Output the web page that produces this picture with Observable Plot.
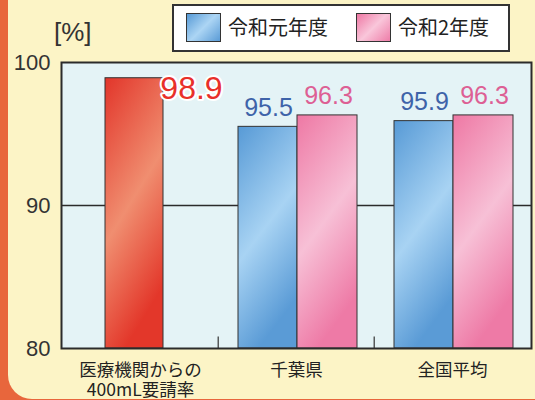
<!DOCTYPE html>
<html>
<head>
<meta charset="utf-8">
<script src="https://cdn.jsdelivr.net/npm/d3@7"></script>
<script src="https://cdn.jsdelivr.net/npm/@observablehq/plot@0.6"></script>
<style>
  html, body { margin: 0; padding: 0; background: #e8663c; }
  #wrap { position: relative; width: 535px; height: 400px; background: #e8663c; overflow: hidden;
          font-family: "Liberation Sans", "Noto Sans CJK JP", sans-serif; }
  #panel { position: absolute; left: 8px; top: -40px; width: 580px; height: 439px; background: #fcf4c6; border-radius: 24px; }
  #chart { position: absolute; left: 0; top: 0; }
  #unit { position: absolute; left: 54px; top: 17px; font-size: 26px; color: #333; font-family: "Liberation Sans", sans-serif; }
  #legend { position: absolute; left: 172px; top: 4px; width: 334px; height: 44px; background: #fff; border: 2px solid #333;
            font-family: "Noto Sans CJK JP", sans-serif; font-size: 20px; color: #222; }
  .sw { position: absolute; top: 7px; width: 33px; height: 27px; border: 1px solid #333; }
  .lt { position: absolute; top: 7px; line-height: 28px; }
</style>
</head>
<body>
<div id="wrap">
  <div id="panel"></div>
  <div id="chart"></div>
  <div id="unit">[%]</div>
  <div id="legend"></div>
</div>
<script>
// ---- data ----
const categories = ["医療機関からの\n400mL要請率", "千葉県", "全国平均"];
const seriesNames = ["令和元年度", "令和2年度"];
const requestCategories = ["医療機関からの\n400mL要請率"];
const requestValues = [98.9];
const compareCategories = ["千葉県", "全国平均"];
const reiwa1Values = [95.5, 95.9];
const reiwa2Values = [96.3, 96.3];
const yTicks = [80, 90, 100];

const redRows = requestCategories.map((c, i) => ({cat: c, value: requestValues[i]}));
const r1Rows = compareCategories.map((c, i) => ({cat: c, value: reiwa1Values[i], series: seriesNames[0]}));
const r2Rows = compareCategories.map((c, i) => ({cat: c, value: reiwa2Values[i], series: seriesNames[1]}));

const chart = Plot.plot({
  width: 535,
  height: 400,
  marginLeft: 61,
  marginRight: 4,
  marginTop: 62,
  marginBottom: 52,
  style: {background: "transparent", fontFamily: "'Liberation Sans', 'Noto Sans CJK JP', sans-serif", color: "#333"},
  x: {type: "band", domain: categories, padding: 0, axis: null},
  y: {domain: [80, 100], axis: null},
  marks: [
    Plot.frame({fill: "#e4f3f6"}),
    Plot.ruleY([90], {stroke: "#2b2b2b", strokeWidth: 1.6}),
    Plot.ruleX(categories.slice(1), {x: d => d, y1: 80, y2: 80.8, dx: -78.3, stroke: "#333", strokeWidth: 1.2}),
    Plot.barY(redRows, {x: "cat", y1: 80, y2: "value", fill: "url(#gRed)", stroke: "#333", strokeWidth: 1, insetLeft: 43, insetRight: 55}),
    Plot.barY(r1Rows, {x: "cat", y1: 80, y2: "value", fill: "url(#gBlue)", stroke: "#333", strokeWidth: 1, insetLeft: 20, insetRight: 77}),
    Plot.barY(r2Rows, {x: "cat", y1: 80, y2: "value", fill: "url(#gPink)", stroke: "#333", strokeWidth: 1, insetLeft: 79, insetRight: 17}),
    Plot.text(redRows, {x: "cat", y: "value", text: d => d.value.toFixed(1), dx: 51, dy: 11, lineAnchor: "middle",
      fontSize: 32, fill: "#e8302a", stroke: "white", strokeWidth: 4, paintOrder: "stroke"}),
    Plot.text(r1Rows, {x: "cat", y: "value", text: d => d.value.toFixed(1), dx: -28, dy: -19, lineAnchor: "middle",
      fontSize: 25, fill: "#3e63a9"}),
    Plot.text(r2Rows, {x: "cat", y: "value", text: d => d.value.toFixed(1), dx: 32, dy: -19.5, lineAnchor: "middle",
      fontSize: 25, fill: "#dd5f94"}),
    Plot.axisY({ticks: yTicks, tickSize: 0, tickPadding: 11, fontSize: 22, label: null, fill: "#333"}),
    Plot.text(categories, {x: d => d, frameAnchor: "bottom", lineAnchor: "top", dy: 13, fontSize: 17.5, lineHeight: 1.16,
      fill: "#222", fontFamily: "'Noto Sans CJK JP', sans-serif"}),
    Plot.frame({stroke: "#2b2b2b", strokeWidth: 2})
  ]
});

// gradients for bar fills (dark ends, light diagonal band in the middle)
const defs = d3.select(chart).insert("defs", ":first-child");
function grad(id, c0, c1, c2) {
  const g = defs.append("linearGradient").attr("id", id)
    .attr("x1", "0").attr("y1", "0").attr("x2", "0.35").attr("y2", "1");
  g.append("stop").attr("offset", "0").attr("stop-color", c0);
  g.append("stop").attr("offset", "0.55").attr("stop-color", c1);
  g.append("stop").attr("offset", "1").attr("stop-color", c2);
}
grad("gRed", "#e2352a", "#f08e70", "#e3372a");
grad("gBlue", "#579ad6", "#a8d3f3", "#5a9bd6");
grad("gPink", "#ee78a4", "#f7c0d6", "#ee7aa6");

document.getElementById("chart").appendChild(chart);

// legend
const legend = document.getElementById("legend");
const swatchColors = ["linear-gradient(135deg,#579ad6,#acd5f4,#5a9bd6)", "linear-gradient(135deg,#ee78a4,#f9c6da,#ee7da8)"];
const swLeft = [12, 182], txLeft = [54, 224];
seriesNames.forEach((name, i) => {
  const s = document.createElement("div");
  s.className = "sw"; s.style.left = swLeft[i] + "px"; s.style.background = swatchColors[i];
  legend.appendChild(s);
  const t = document.createElement("div");
  t.className = "lt"; t.style.left = txLeft[i] + "px"; t.textContent = name;
  legend.appendChild(t);
});
</script>
</body>
</html>
